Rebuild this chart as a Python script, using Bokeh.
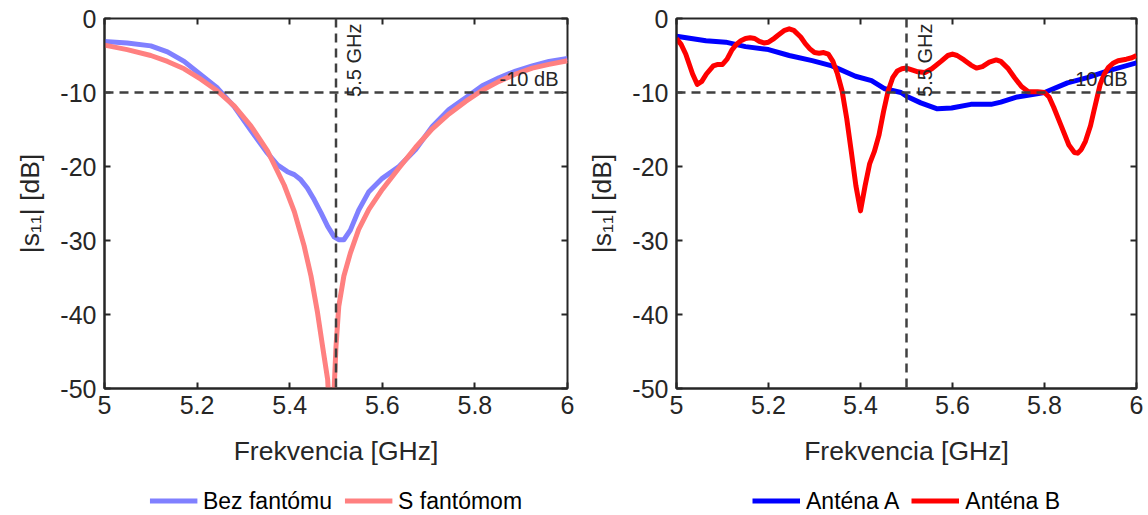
import math
from bokeh.plotting import figure
from bokeh.models import (Span, Label, Legend, LegendItem, LinearAxis,
                          CustomJSTickFormatter, FixedTicker, Range1d)
from bokeh.layouts import row, column
from bokeh.embed import file_html
from bokeh.resources import INLINE

# ---------------- data ----------------
X_TICKS = [5.0, 5.2, 5.4, 5.6, 5.8, 6.0]
Y_TICKS = [-50, -40, -30, -20, -10, 0]
REF_LEVEL = -10
REF_FREQ = 5.5

# left panel: Bez fantómu
f_bez = [5.0, 5.049, 5.1, 5.136, 5.172, 5.208, 5.244, 5.28, 5.316, 5.352, 5.374,
         5.395, 5.41, 5.424, 5.438, 5.453, 5.468, 5.482, 5.496, 5.506, 5.517,
         5.531, 5.549, 5.571, 5.6, 5.636, 5.672, 5.708, 5.744, 5.78, 5.816,
         5.852, 5.888, 5.924, 5.96, 6.0]
s_bez = [-3.1, -3.3, -3.7, -4.5, -5.8, -7.6, -9.4, -11.9, -15.1, -18.2, -19.8,
         -20.7, -21.1, -21.8, -22.9, -24.5, -26.3, -28.1, -29.5, -29.9, -29.9,
         -28.6, -25.9, -23.4, -21.6, -20.0, -17.7, -14.6, -12.3, -10.7, -9.1,
         -8.0, -7.1, -6.4, -5.8, -5.4]

# left panel: S fantómom
f_s = [5.0, 5.049, 5.1, 5.136, 5.172, 5.208, 5.244, 5.28, 5.316, 5.352, 5.388,
       5.41, 5.431, 5.446, 5.46, 5.471, 5.482, 5.488, 5.496, 5.5, 5.506, 5.517,
       5.531, 5.549, 5.571, 5.6, 5.636, 5.672, 5.708, 5.744, 5.78, 5.816,
       5.852, 5.888, 5.924, 5.96, 6.0]
s_s = [-3.6, -4.2, -5.0, -5.8, -6.8, -8.2, -9.8, -11.8, -14.5, -17.9, -22.5,
       -26.1, -30.7, -34.8, -39.7, -44.3, -48.8, -56.0, -50.0, -44.3, -38.9, -34.8,
       -31.7, -28.5, -25.8, -23.1, -20.2, -17.4, -14.9, -12.9, -11.2, -9.7,
       -8.5, -7.5, -6.7, -6.2, -5.7]

# right panel: Anténa A
f_a = [5.0, 5.064, 5.107, 5.15, 5.2, 5.245, 5.295, 5.338, 5.389, 5.424, 5.453,
       5.488, 5.5, 5.531, 5.567, 5.598, 5.64, 5.684, 5.705, 5.741, 5.8, 5.85,
       5.893, 5.936, 6.0]
s_a = [-2.4, -3.0, -3.2, -3.8, -4.2, -5.0, -5.7, -6.4, -7.8, -8.4, -9.5,
       -10.0, -10.5, -11.4, -12.2, -12.1, -11.6, -11.6, -11.3, -10.6, -10.0, -8.7,
       -8.0, -7.1, -6.0]

# right panel: Anténa B
f_b = [5.0, 5.01, 5.02, 5.035, 5.045, 5.055, 5.065, 5.08, 5.09, 5.1, 5.11, 5.12,
       5.13, 5.14, 5.15, 5.16, 5.17, 5.18, 5.19, 5.2, 5.21, 5.22, 5.235, 5.245,
       5.255, 5.27, 5.28, 5.29, 5.3, 5.31, 5.32, 5.33, 5.34, 5.35, 5.36, 5.37,
       5.38, 5.39, 5.4, 5.41, 5.42, 5.43, 5.44, 5.45, 5.46, 5.47, 5.48, 5.49,
       5.5, 5.51, 5.525, 5.54, 5.555, 5.575, 5.59, 5.6, 5.61, 5.625, 5.64, 5.652,
       5.665, 5.68, 5.695, 5.705, 5.72, 5.735, 5.75, 5.765, 5.785, 5.8, 5.81,
       5.82, 5.835, 5.853, 5.865, 5.872, 5.88, 5.889, 5.9, 5.907, 5.915, 5.921,
       5.93, 5.939, 5.95, 5.96, 5.978, 5.99, 6.0]
s_b = [-2.7, -3.5, -4.8, -7.5, -8.9, -8.5, -7.5, -6.4, -6.2, -6.2, -5.5, -4.3,
       -3.5, -3.0, -2.7, -2.6, -2.7, -3.1, -3.3, -3.2, -2.8, -2.3, -1.6, -1.4,
       -1.6, -2.5, -3.4, -4.1, -4.6, -4.7, -4.6, -4.8, -5.8, -7.5, -9.8, -13.5,
       -18.0, -22.6, -26.0, -22.6, -19.6, -18.0, -15.8, -12.6, -9.8, -8.0, -7.1,
       -6.8, -6.7, -6.9, -7.2, -7.3, -6.8, -5.8, -5.0, -4.8, -5.0, -5.6, -6.3,
       -6.7, -6.5, -5.9, -5.6, -5.8, -6.7, -8.0, -9.2, -9.9, -9.9, -10.0, -10.6,
       -12.0, -14.3, -17.1, -18.1, -18.2, -17.7, -16.6, -14.5, -12.6, -10.5, -8.9,
       -7.5, -6.6, -6.0, -5.7, -5.5, -5.3, -5.0]

LEFT_NAMES = ["Bez fantómu", "S fantómom"]
RIGHT_NAMES = ["Anténa A", "Anténa B"]
LEFT_COLORS = ["#8080ff", "#ff8080"]
RIGHT_COLORS = ["#0000ff", "#ff0000"]

FONT = "Liberation Sans"
DARK = "#262626"
DASH = "#404040"
LINE_W = 5


def make_panel(series, colors, border_left, frame_w, border_right):
    p = figure(frame_width=frame_w, frame_height=370, output_backend="svg",
               toolbar_location=None,
               x_range=Range1d(5, 6), y_range=Range1d(-50, 0),
               min_border_left=border_left, min_border_right=border_right,
               min_border_top=18, min_border_bottom=98)
    p.xgrid.grid_line_color = None
    p.ygrid.grid_line_color = None
    p.outline_line_color = DARK
    p.outline_line_width = 2
    p.outline_line_alpha = 1
    p.background_fill_color = "white"
    p.border_fill_color = "white"

    fmt = CustomJSTickFormatter(code="return (Math.round(tick*10)/10).toString();")
    for ax, ticks in ((p.xaxis[0], X_TICKS), (p.yaxis[0], Y_TICKS)):
        ax.ticker = FixedTicker(ticks=ticks)
        ax.formatter = fmt
        ax.major_tick_in = 6
        ax.major_tick_out = 0
        ax.minor_tick_line_color = None
        ax.major_tick_line_color = DARK
        ax.major_tick_line_width = 2
        ax.axis_line_color = DARK
        ax.axis_line_width = 2
        ax.major_label_text_font = FONT
        ax.major_label_text_font_size = "25px"
        ax.major_label_text_color = DARK
        ax.axis_label_text_font = FONT
        ax.axis_label_text_font_size = "26.5px"
        ax.axis_label_text_font_style = "normal"
        ax.axis_label_text_color = DARK
    p.xaxis.axis_label = "Frekvencia [GHz]"
    p.yaxis.axis_label = "|s\u2081\u2081| [dB]"
    p.xaxis.major_label_standoff = 7
    p.xaxis.axis_label_standoff = 19
    p.yaxis.major_label_standoff = 8
    p.yaxis.axis_label_standoff = 12

    for side, ticks in (("above", X_TICKS), ("right", Y_TICKS)):
        ax = LinearAxis(ticker=FixedTicker(ticks=ticks),
                        major_label_text_alpha=0, major_label_text_font_size="1px",
                        major_label_standoff=0, axis_line_color=None,
                        major_tick_in=6, major_tick_out=0, major_tick_line_color=DARK,
                        major_tick_line_width=2, minor_tick_line_color=None)
        p.add_layout(ax, side)

    p.add_layout(Span(location=REF_LEVEL, dimension="width", line_color=DASH,
                      line_width=2.5, line_dash="9 6"))
    p.add_layout(Span(location=REF_FREQ, dimension="height", line_color=DASH,
                      line_width=2.5, line_dash="9 6"))

    for (fx, sy), col in zip(series, colors):
        p.line(fx, sy, line_color=col, line_width=LINE_W, line_join="round")

    p.add_layout(Label(x=REF_FREQ, y=-10.6, x_offset=7, angle=math.pi / 2,
                       text="5.5 GHz", text_align="left", text_baseline="top",
                       text_font=FONT, text_font_size="20px", text_color=DARK))
    p.add_layout(Label(x=6, y=-8.2, x_offset=-9, text="-10 dB", text_align="right",
                       text_baseline="alphabetic", text_font=FONT,
                       text_font_size="20px", text_color=DARK))
    return p


def make_legend(series, names, colors, border_left, frame_w, border_right):
    # legend-only strip: the series are drawn but lie outside its y range
    q = figure(frame_width=frame_w, frame_height=29, output_backend="svg",
               toolbar_location=None, x_range=Range1d(5, 6), y_range=Range1d(100, 101),
               x_axis_location=None, y_axis_location=None,
               min_border_left=border_left, min_border_right=border_right,
               min_border_top=0, min_border_bottom=0)
    q.xgrid.grid_line_color = None
    q.ygrid.grid_line_color = None
    q.outline_line_color = None
    items = []
    for (fx, sy), name, col in zip(series, names, colors):
        r = q.line(fx, sy, line_color=col, line_width=LINE_W)
        items.append(LegendItem(label=name, renderers=[r]))
    leg = Legend(items=items, orientation="horizontal", location="center",
                 border_line_color=None, background_fill_alpha=0,
                 label_text_font=FONT, label_text_font_size="23px",
                 label_text_color="black", glyph_width=48, glyph_height=24,
                 label_standoff=6, spacing=12, padding=0, margin=0)
    q.add_layout(leg, "center")
    return q


LEFT_SERIES = [(f_bez, s_bez), (f_s, s_s)]
RIGHT_SERIES = [(f_a, s_a), (f_b, s_b)]

left = make_panel(LEFT_SERIES, LEFT_COLORS, 104, 463, 13)
right = make_panel(RIGHT_SERIES, RIGHT_COLORS, 96, 460, 12)
leg_left = make_legend(LEFT_SERIES, LEFT_NAMES, LEFT_COLORS, 104, 463, 13)
leg_right = make_legend(RIGHT_SERIES, RIGHT_NAMES, RIGHT_COLORS, 96, 460, 12)

layout = column(row(left, right), row(leg_left, leg_right))
open("out.html", "w").write(file_html(layout, INLINE))
